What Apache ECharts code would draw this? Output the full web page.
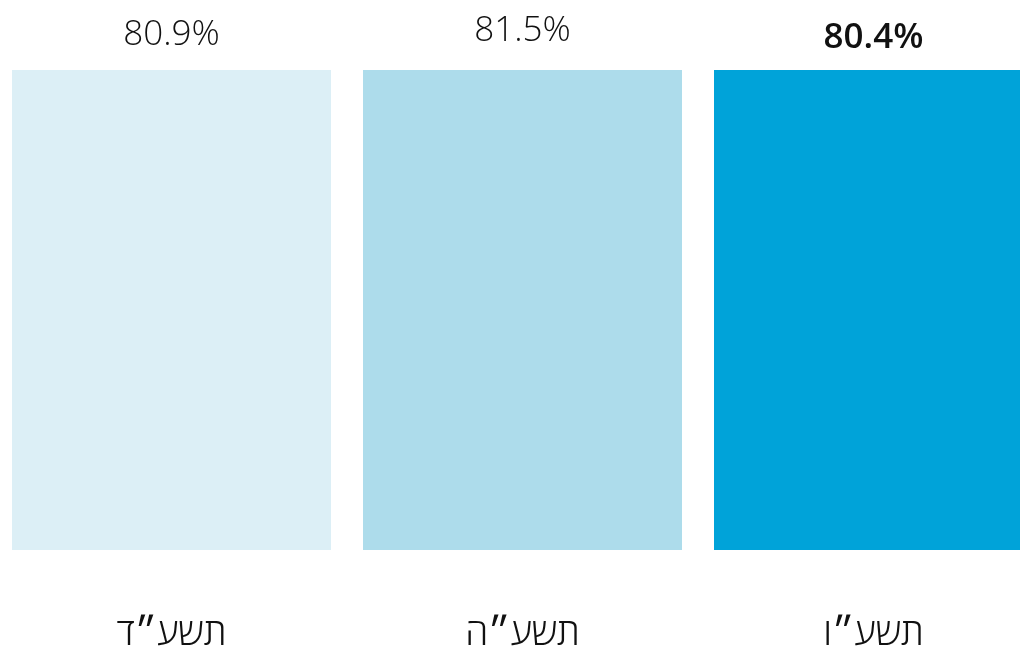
<!DOCTYPE html>
<html>
<head>
<meta charset="utf-8">
<script src="https://cdn.jsdelivr.net/npm/echarts@6/dist/echarts.min.js"></script>
<style>
html,body{margin:0;padding:0;background:#fff;}
#chart{width:1020px;height:646px;}
</style>
</head>
<body>
<div id="chart"></div>
<script>
const categories = ['תשע״ד', 'תשע״ה', 'תשע״ו'];
const values = [80.9, 81.5, 80.4];
const barColors = ['#DCEFF6', '#ADDCEB', '#00A3D9'];
const labelWeights = [350, 350, 600];

const FONT = '"Open Sans", "DejaVu Sans", sans-serif';
const chart = echarts.init(document.getElementById('chart'), null, {renderer: 'canvas'});
chart.setOption({
  animation: false,
  backgroundColor: '#ffffff',
  grid: {left: -4, right: -29, top: 70, bottom: 96, containLabel: false, outerBoundsMode: 'none'},
  xAxis: {
    type: 'category',
    data: categories,
    axisLine: {show: false},
    axisTick: {show: false},
    axisLabel: {margin: 66, fontSize: 37, fontWeight: 300, color: '#111111', fontFamily: FONT}
  },
  yAxis: {
    type: 'value', min: 0, max: 80, show: false, splitLine: {show: false}
  },
  series: [{
    type: 'bar',
    barWidth: 319,
    clip: true,
    data: values.map((v, i) => ({value: v, itemStyle: {color: barColors[i]}}))
  }, {
    type: 'scatter',
    clip: false,
    symbolSize: 1,
    itemStyle: {color: 'rgba(0,0,0,0)', opacity: 1},
    silent: true,
    data: values.map((v, i) => ({value: v, label: {fontWeight: labelWeights[i]}})),
    label: {
      show: true,
      position: 'top',
      distance: 12,
      fontSize: 35,
      color: '#111111',
      fontFamily: FONT,
      formatter: p => p.value.toFixed(1) + '%'
    }
  }]
});
</script>
</body>
</html>
